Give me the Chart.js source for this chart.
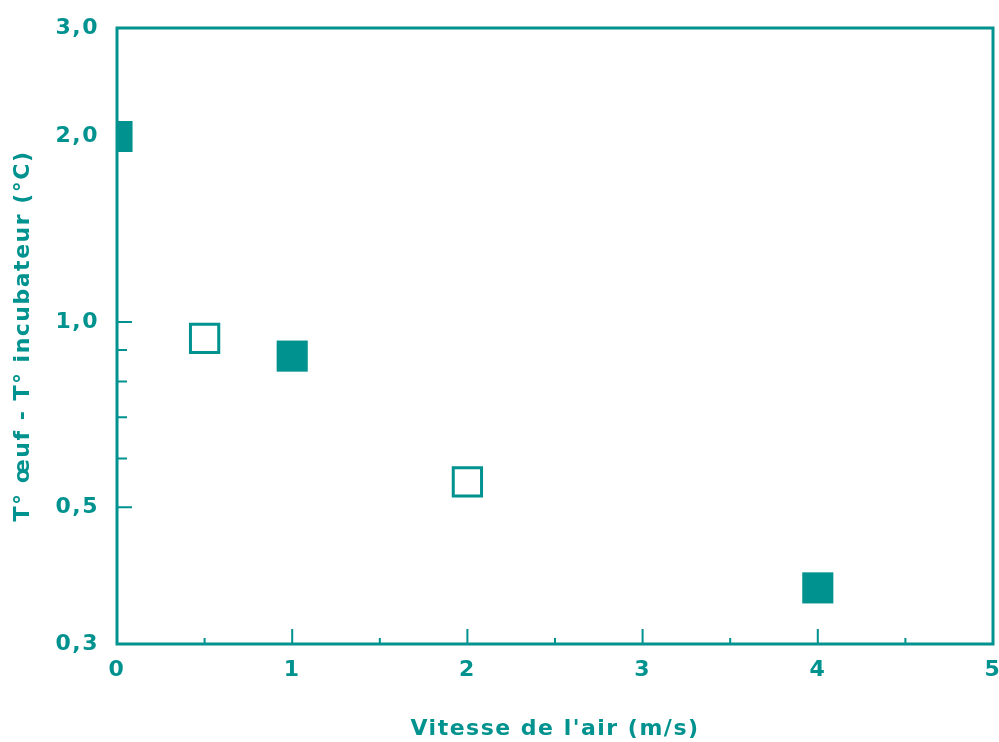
<!DOCTYPE html>
<html>
<head>
<meta charset="utf-8">
<script src="https://cdn.jsdelivr.net/npm/chart.js@4/dist/chart.umd.min.js"></script>
<style>
  html, body { margin: 0; padding: 0; background: #ffffff; }
  #wrap { width: 999px; height: 742px; }
</style>
</head>
<body>
<div id="wrap"><canvas id="c" width="999" height="742"></canvas></div>
<script>
// Egg minus incubator temperature versus air speed
const filledX = [0, 1, 4];
const filledY = [2.0, 0.88, 0.37];
const openX = [0.5, 2];
const openY = [0.94, 0.55];

const yTicks = [0.3, 0.5, 1.0, 2.0, 3.0];
const yMinorTicks = [0.6, 0.7, 0.8, 0.9];
const xTicks = [0, 1, 2, 3, 4, 5];
const xMinorTicks = [0.5, 1.5, 2.5, 3.5, 4.5];

const xTitle = "Vitesse de l'air (m/s)";
const yTitle = "T° œuf - T° incubateur (°C)";

const TEAL = '#00928e';
const FONT = '"DejaVu Sans", Verdana, sans-serif';
const labelFont = { family: FONT, size: 22, weight: 'bold' };

const pts = (xs, ys) => xs.map((x, i) => ({ x: x, y: ys[i] }));

// Slightly spaced-out lettering for all chart text
const spacingPlugin = {
  id: 'spacing',
  beforeUpdate(chart) { chart.ctx.letterSpacing = '1.5px'; },
  beforeDraw(chart) { chart.ctx.letterSpacing = '1.5px'; }
};

// Frame around the plot area plus inward-pointing tick marks
const framePlugin = {
  id: 'frame',
  afterDatasetsDraw(chart) {
    const { ctx, chartArea: a, scales: { x, y } } = chart;
    ctx.save();
    ctx.strokeStyle = TEAL;
    ctx.lineWidth = 3;
    ctx.strokeRect(a.left, a.top, a.right - a.left, a.bottom - a.top);
    ctx.lineWidth = 2;
    ctx.beginPath();
    xTicks.forEach(v => {
      const px = x.getPixelForValue(v);
      ctx.moveTo(px, a.bottom); ctx.lineTo(px, a.bottom - 15);
    });
    xMinorTicks.forEach(v => {
      const px = x.getPixelForValue(v);
      ctx.moveTo(px, a.bottom); ctx.lineTo(px, a.bottom - 6);
    });
    yTicks.forEach(v => {
      const py = y.getPixelForValue(v);
      ctx.moveTo(a.left, py); ctx.lineTo(a.left + 15, py);
    });
    yMinorTicks.forEach(v => {
      const py = y.getPixelForValue(v);
      ctx.moveTo(a.left, py); ctx.lineTo(a.left + 10, py);
    });
    ctx.stroke();
    ctx.restore();
  }
};

new Chart(document.getElementById('c'), {
  type: 'scatter',
  data: {
    datasets: [
      {
        data: pts(filledX, filledY),
        pointStyle: 'rect',
        pointRadius: 22,
        pointBackgroundColor: TEAL,
        pointBorderColor: TEAL,
        pointBorderWidth: 0,
        clip: 0
      },
      {
        data: pts(openX, openY),
        pointStyle: 'rect',
        pointRadius: 20,
        pointBackgroundColor: '#ffffff',
        pointBorderColor: TEAL,
        pointBorderWidth: 3,
        clip: 0
      }
    ]
  },
  options: {
    responsive: false,
    animation: false,
    events: [],
    layout: { autoPadding: false, padding: { top: 28, right: 6, left: 0, bottom: 0 } },
    plugins: { legend: { display: false }, tooltip: { enabled: false } },
    scales: {
      x: {
        type: 'linear',
        min: 0,
        max: 5,
        afterBuildTicks(s) { s.ticks = xTicks.map(v => ({ value: v })); },
        afterFit(s) {
          s.height = 98;
          s.paddingLeft = 0; s.paddingRight = 0;
        },
        grid: { display: false, drawTicks: false },
        border: { display: false },
        ticks: {
          color: TEAL,
          font: labelFont,
          padding: 13,
          maxRotation: 0,
          callback: v => String(v)
        },
        title: {
          display: true,
          text: xTitle,
          color: TEAL,
          font: labelFont,
          padding: { top: 0, bottom: 0 }
        }
      },
      y: {
        type: 'logarithmic',
        min: 0.3,
        max: 3.0,
        afterBuildTicks(s) { s.ticks = yTicks.map(v => ({ value: v })); },
        afterFit(s) {
          s.width = 117;
          s.paddingTop = 0; s.paddingBottom = 0;
        },
        grid: { display: false, drawTicks: false },
        border: { display: false },
        ticks: {
          color: TEAL,
          font: labelFont,
          padding: 18,
          callback: v => Number(v).toFixed(1).replace('.', ',')
        },
        title: {
          display: true,
          text: yTitle,
          color: TEAL,
          font: labelFont,
          padding: { top: 10, bottom: 0 }
        }
      }
    }
  },
  plugins: [spacingPlugin, framePlugin]
});
</script>
</body>
</html>
